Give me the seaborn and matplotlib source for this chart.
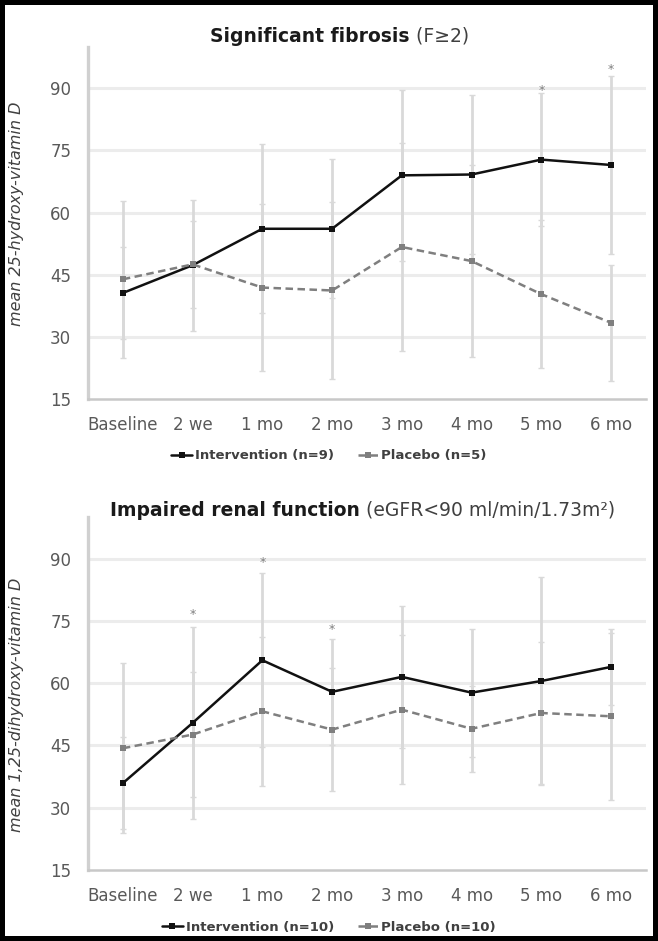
import matplotlib.pyplot as plt
import numpy as np
import pandas as pd
import seaborn as sns
from matplotlib.lines import Line2D

# Data
timepoints = ['Baseline', '2 we', '1 mo', '2 mo', '3 mo', '4 mo', '5 mo', '6 mo']

# Significant fibrosis (F>=2): mean 25-hydroxy-vitamin D, +/- SD
fib_int_mean = [40.6, 47.3, 56.1, 56.1, 69.0, 69.2, 72.8, 71.5]
fib_int_sd = [11.0, 15.8, 20.4, 16.8, 20.7, 19.3, 16.0, 21.5]
fib_pla_mean = [43.9, 47.5, 41.9, 41.2, 51.7, 48.3, 40.3, 33.4]
fib_pla_sd = [19.0, 10.5, 20.1, 21.3, 25.1, 23.1, 17.8, 14.0]
fib_star_at = ['5 mo', '6 mo']
fib_star_y = [89.5, 94.5]

# Impaired renal function: mean 1,25-dihydroxy-vitamin D, +/- SD
ren_int_mean = [35.9, 50.4, 65.5, 57.9, 61.5, 57.7, 60.5, 63.9]
ren_int_sd = [11.0, 23.1, 20.9, 12.7, 17.1, 15.4, 25.0, 9.1]
ren_pla_mean = [44.3, 47.6, 53.2, 48.8, 53.6, 49.0, 52.8, 52.0]
ren_pla_sd = [20.5, 15.0, 18.0, 14.9, 18.0, 10.3, 17.2, 20.1]
ren_star_at = ['2 we', '1 mo', '2 mo']
ren_star_y = [76.5, 89.0, 73.0]

yticks = [15, 30, 45, 60, 75, 90]

sns.set_style('white')
plt.rcParams['font.family'] = ['DejaVu Sans']

INT_COL = '#111111'
PLA_COL = '#7f7f7f'
BAR_COL = '#d9d9d9'
TXT_COL = '#595959'

fig = plt.figure(figsize=(6.58, 9.41), dpi=100, edgecolor='black', linewidth=6)
ax_top = fig.add_axes([0.1337, 0.5760, 0.848, 0.3741])
ax_bot = fig.add_axes([0.1337, 0.0755, 0.848, 0.3751])


def draw_panel(ax, int_mean, int_sd, pla_mean, pla_sd, int_label, pla_label,
               star_at, star_y):
    pos = np.arange(len(timepoints))
    df = pd.DataFrame({
        'pos': list(pos) * 2,
        'mean': int_mean + pla_mean,
        'group': [int_label] * len(pos) + [pla_label] * len(pos),
    })

    # SD bars (light grey, behind the lines)
    ax.errorbar(pos, pla_mean, yerr=pla_sd, fmt='none', ecolor=BAR_COL,
                elinewidth=2.0, capsize=2, capthick=1, zorder=1)
    ax.errorbar(pos, int_mean, yerr=int_sd, fmt='none', ecolor=BAR_COL,
                elinewidth=2.0, capsize=2, capthick=1, zorder=1)

    sns.lineplot(data=df, x='pos', y='mean', hue='group', style='group',
                 palette={int_label: INT_COL, pla_label: PLA_COL},
                 dashes={int_label: '', pla_label: (3, 1.8)},
                 markers={int_label: 's', pla_label: 's'},
                 markersize=4.5, markeredgewidth=0, linewidth=1.8,
                 sort=False, legend=False, ax=ax, zorder=3)

    for lab, yy in zip(star_at, star_y):
        ax.text(timepoints.index(lab), yy, '*', ha='center', va='center',
                fontsize=9, color='#808080')

    ax.set_xlim(-0.5, len(timepoints) - 0.5)
    ax.set_ylim(15, 100)
    ax.set_xticks(pos)
    ax.set_xticklabels(timepoints)
    ax.set_yticks(yticks)
    ax.set_xlabel('')
    ax.set_ylabel('')
    for y in yticks[1:]:
        ax.axhline(y, color='#ececec', lw=2.2, zorder=0)

    for side in ['top', 'right']:
        ax.spines[side].set_visible(False)
    ax.spines['left'].set_color('#d0d0d0')
    ax.spines['left'].set_linewidth(2.4)
    ax.spines['bottom'].set_color('#c8c8c8')
    ax.spines['bottom'].set_linewidth(1.8)
    ax.tick_params(axis='both', colors='#bfbfbf', labelcolor=TXT_COL,
                   labelsize=12, length=4, width=1, direction='out')
    ax.tick_params(axis='y', pad=8)
    ax.tick_params(axis='x', pad=8)

    handles = [
        Line2D([], [], color=INT_COL, lw=1.8, marker='s', ms=4, mew=0),
        Line2D([], [], color=PLA_COL, lw=1.8, ls=(0, (3, 1.8)), marker='s', ms=4, mew=0),
    ]
    return handles


h = draw_panel(ax_top, fib_int_mean, fib_int_sd, fib_pla_mean, fib_pla_sd,
               'Intervention (n=9)', 'Placebo (n=5)', fib_star_at, fib_star_y)
fig.legend(h, ['Intervention (n=9)', 'Placebo (n=5)'], loc='center',
           bbox_to_anchor=(0.5, 1 - 456 / 941), ncol=2, frameon=False,
           handlelength=1.6, handletextpad=0.2, columnspacing=1.8,
           prop={'size': 9.5, 'weight': 'bold'}, labelcolor='#404040')

h = draw_panel(ax_bot, ren_int_mean, ren_int_sd, ren_pla_mean, ren_pla_sd,
               'Intervention (n=10)', 'Placebo (n=10)', ren_star_at, ren_star_y)
fig.legend(h, ['Intervention (n=10)', 'Placebo (n=10)'], loc='center',
           bbox_to_anchor=(0.5, 1 - 927 / 941), ncol=2, frameon=False,
           handlelength=1.6, handletextpad=0.2, columnspacing=1.8,
           prop={'size': 9.5, 'weight': 'bold'}, labelcolor='#404040')

# y labels
fig.text(17 / 658, 1 - 214 / 941, 'mean 25-hydroxy-vitamin D', rotation=90,
         ha='center', va='center', fontsize=11.5, style='italic', color='#404040')
fig.text(17 / 658, 1 - 705 / 941, 'mean 1,25-dihydroxy-vitamin D', rotation=90,
         ha='center', va='center', fontsize=11.5, style='italic', color='#404040')

# titles: bold part followed by a regular part
t1 = fig.text(210 / 658, 1 - 36 / 941, 'Significant fibrosis', ha='left',
              va='center', fontsize=13.5, weight='bold', color='#1a1a1a')
ax_top.annotate(' (F\u22652)', xy=(1, 0), xycoords=t1, ha='left', va='bottom',
                fontsize=13.5, color='#404040', annotation_clip=False)

t2 = fig.text(110 / 658, 1 - 510 / 941, 'Impaired renal function', ha='left',
              va='center', fontsize=13.5, weight='bold', color='#1a1a1a')
ax_bot.annotate(' (eGFR<90 ml/min/1.73m\u00b2)', xy=(1, 0), xycoords=t2,
                ha='left', va='bottom', fontsize=13.5, color='#404040',
                annotation_clip=False)

fig.savefig('out.png', dpi=100)
